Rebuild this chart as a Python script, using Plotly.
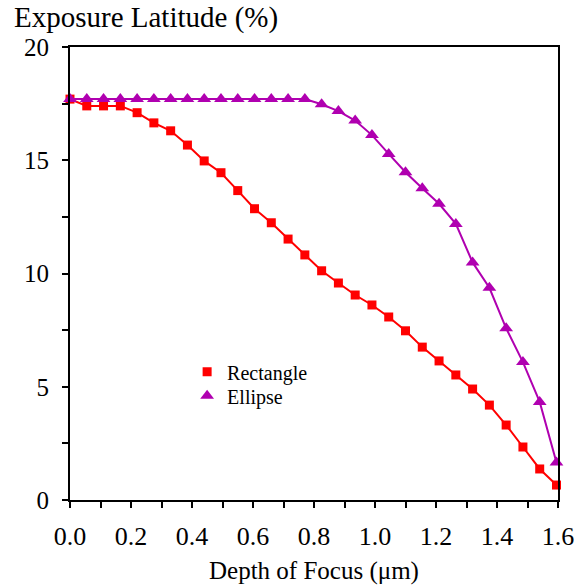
import plotly.graph_objects as go

depth = [0.0, 0.055, 0.11, 0.165, 0.22, 0.275, 0.33, 0.385, 0.44, 0.495,
         0.55, 0.605, 0.66, 0.715, 0.77, 0.825, 0.88, 0.935, 0.99, 1.045,
         1.1, 1.155, 1.21, 1.265, 1.32, 1.375, 1.43, 1.485, 1.54, 1.595]
rectangle = [17.7, 17.4, 17.4, 17.4, 17.1, 16.65, 16.3, 15.67, 14.97, 14.45,
             13.66, 12.86, 12.24, 11.52, 10.82, 10.12, 9.58, 9.05, 8.61, 8.08,
             7.47, 6.75, 6.14, 5.52, 4.90, 4.19, 3.31, 2.34, 1.37, 0.66]
ellipse = [17.7, 17.7, 17.7, 17.7, 17.7, 17.7, 17.7, 17.7, 17.7, 17.7,
           17.7, 17.7, 17.7, 17.7, 17.7, 17.47, 17.17, 16.75, 16.11, 15.28,
           14.47, 13.76, 13.08, 12.19, 10.49, 9.37, 7.58, 6.09, 4.33, 1.66]

FONT = "Liberation Serif, Times New Roman, serif"
RED = "#ff0000"
PURPLE = "#b000b0"

fig = go.Figure()
fig.add_trace(go.Scatter(
    x=depth, y=rectangle, name="Rectangle", mode="lines+markers",
    line=dict(color=RED, width=2),
    marker=dict(symbol="square", size=9, color=RED),
    cliponaxis=False, showlegend=False,
))
fig.add_trace(go.Scatter(
    x=depth, y=ellipse, name="Ellipse", mode="lines+markers",
    line=dict(color=PURPLE, width=2),
    marker=dict(symbol="triangle-up", size=12, color=PURPLE),
    cliponaxis=False, showlegend=False,
))
# legend entries (marker only, as in the reference)
fig.add_trace(go.Scatter(
    x=[None], y=[None], name="Rectangle", mode="markers",
    marker=dict(symbol="square", size=9, color=RED), legend="legend",
))
fig.add_trace(go.Scatter(
    x=[None], y=[None], name="Ellipse", mode="markers",
    marker=dict(symbol="triangle-up", size=12, color=PURPLE), legend="legend2",
))

legend_style = dict(xanchor="left", yanchor="top", bgcolor="rgba(0,0,0,0)",
                    font=dict(size=20, family=FONT), itemwidth=30)

fig.update_layout(
    width=574, height=587,
    margin=dict(l=70, r=16, t=47, b=87),
    paper_bgcolor="white", plot_bgcolor="white",
    font=dict(family=FONT, size=25, color="black"),
    showlegend=True,
    legend=dict(x=0.24, y=0.326, **legend_style),
    legend2=dict(x=0.24, y=0.326 - 24/453, **legend_style),
    annotations=[
        dict(text="Exposure Latitude (%)", xref="paper", yref="paper",
             x=-58/488, y=1 + 29/453, xanchor="left", yanchor="middle",
             showarrow=False, font=dict(size=29, family=FONT)),
        dict(text="Depth of Focus (μm)", xref="paper", yref="paper",
             x=(314-70)/488, y=-(571-500)/453, xanchor="center", yanchor="middle",
             showarrow=False, font=dict(size=25, family=FONT)),
    ],
)
fig.update_xaxes(
    range=[0, 1.6], dtick=0.2, tick0=0, tickformat=".1f",
    showgrid=False, zeroline=False, automargin=False,
    showline=True, linecolor="black", linewidth=2, mirror=True,
    ticks="outside", ticklen=6, tickwidth=2, tickcolor="black",
    minor=dict(dtick=0.1, ticks="outside", ticklen=6, tickwidth=2, tickcolor="black"),
    ticklabelstandoff=6, tickfont=dict(size=26), ticklabeloverflow="allow",
)
fig.update_yaxes(
    range=[0, 20], dtick=5, tick0=0,
    showgrid=False, zeroline=False, automargin=False,
    showline=True, linecolor="black", linewidth=2, mirror=True,
    ticks="outside", ticklen=6, tickwidth=2, tickcolor="black",
    minor=dict(dtick=2.5, ticks="outside", ticklen=6, tickwidth=2, tickcolor="black"),
    ticklabelstandoff=8, tickfont=dict(size=25), ticklabeloverflow="allow",
)

fig.write_html("out.html")
